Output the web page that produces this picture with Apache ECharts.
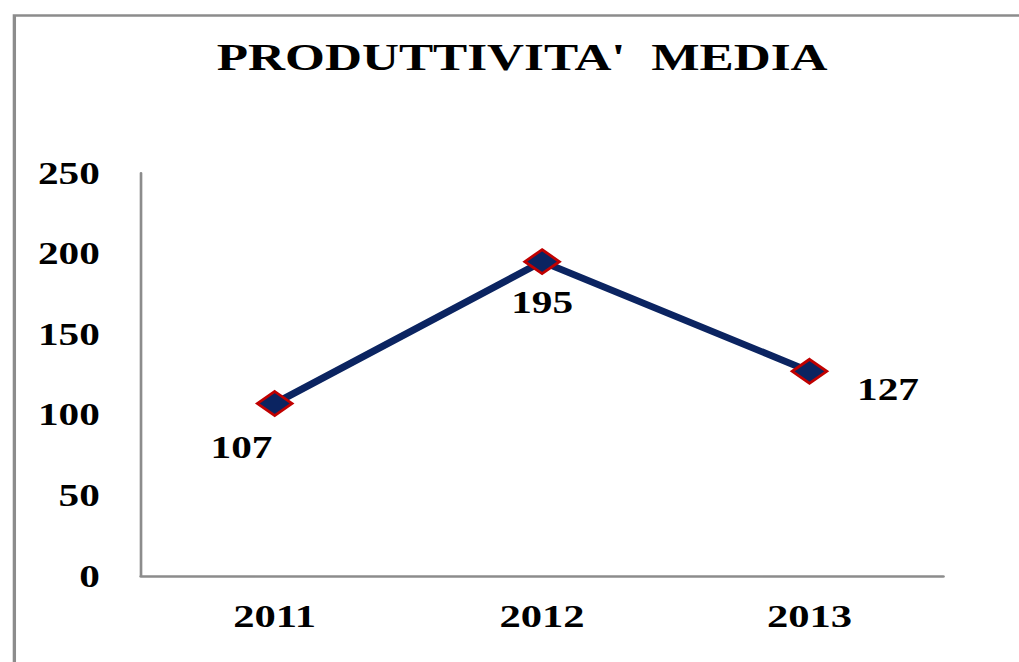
<!DOCTYPE html>
<html>
<head>
<meta charset="utf-8">
<script src="https://cdn.jsdelivr.net/npm/echarts@6/dist/echarts.min.js"></script>
<style>
  html, body { margin: 0; padding: 0; background: #fff; overflow: hidden; }
  #wrap { width: 1019px; height: 662px; overflow: hidden; }
  #chart { width: 766px; height: 662px; transform: scaleX(1.3303); transform-origin: 0 0; }
</style>
</head>
<body>
<div id="wrap"><div id="chart"></div></div>
<script>
const titleText = "PRODUTTIVITA'  MEDIA";
const categories = ['2011', '2012', '2013'];
const values = [107, 195, 127];
const yMin = 0, yMax = 250, yStep = 50;
const labelOffsets = [[-25, 44], [0, 41], [59, 18]];

const chart = echarts.init(document.getElementById('chart'), null, { renderer: 'svg' });
const font = "'Liberation Serif', 'Times New Roman', serif";

chart.setOption({
  backgroundColor: '#ffffff',
  animation: false,
  graphic: [{
    type: 'rect',
    left: 8.3, top: 13,
    shape: { width: 900, height: 800 },
    style: { fill: 'none', stroke: '#8c8c8c', lineWidth: 2.5 },
    silent: true
  }],
  title: {
    text: titleText,
    left: 163, top: 38, padding: 0,
    textStyle: { fontFamily: font, fontWeight: 'bold', fontSize: 38.5, color: '#000' }
  },
  grid: { left: 106, right: 57, top: 173, bottom: 86, containLabel: false },
  xAxis: {
    type: 'category',
    data: categories,
    boundaryGap: true,
    axisLine: { lineStyle: { color: '#8c8c8c', width: 2.5 } },
    axisTick: { show: false },
    axisLabel: { margin: 24, fontFamily: font, fontWeight: 'bold', fontSize: 32, color: '#000' },
    splitLine: { show: false }
  },
  yAxis: {
    type: 'value',
    min: yMin, max: yMax, interval: yStep,
    axisLine: { show: true, lineStyle: { color: '#8c8c8c', width: 2 } },
    axisTick: { show: false },
    axisLabel: { margin: 31, fontFamily: font, fontWeight: 'bold', fontSize: 31, color: '#000' },
    splitLine: { show: false }
  },
  series: [{
    type: 'line',
    data: values.map((v, i) => ({
      value: v,
      label: { offset: labelOffsets[i] }
    })),
    lineStyle: { color: '#0b2461', width: 6.5 },
    symbol: 'diamond',
    symbolSize: [26, 24],
    itemStyle: { color: '#0b2461', borderColor: '#c00000', borderWidth: 2.5 },
    label: {
      show: true,
      position: 'inside',
      fontFamily: font, fontWeight: 'bold', fontSize: 31, color: '#000'
    },
    z: 3
  }]
});
</script>
</body>
</html>
